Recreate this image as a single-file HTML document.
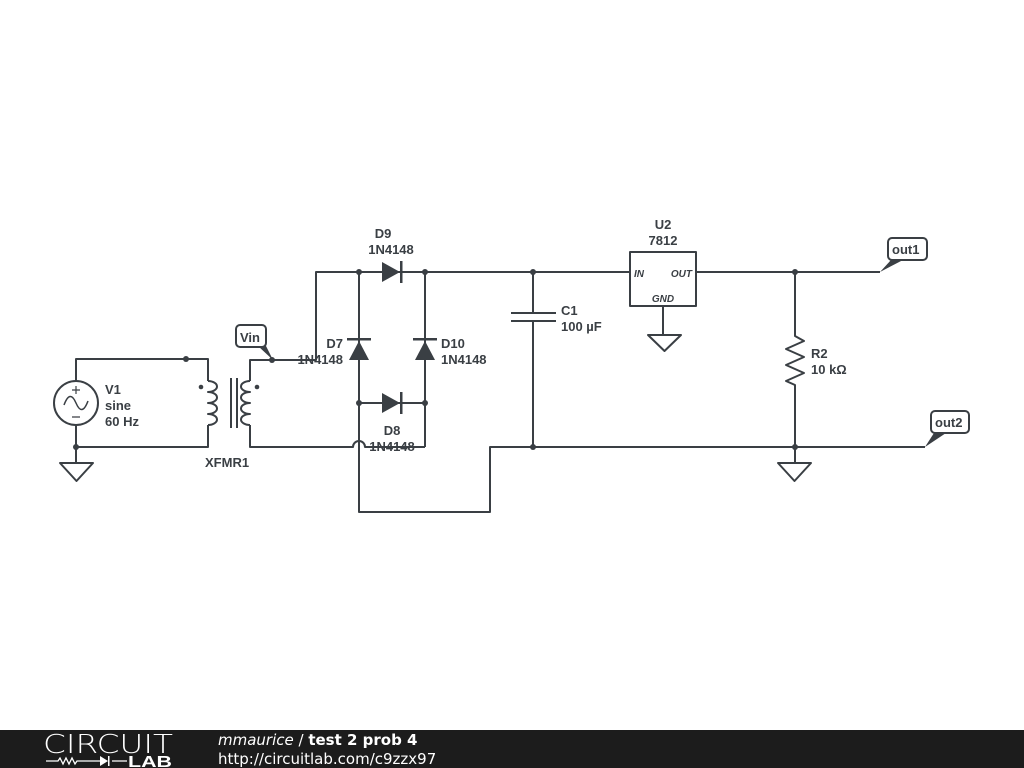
<!DOCTYPE html>
<html><head><meta charset="utf-8"><style>
html,body{margin:0;padding:0;background:#fff;width:1024px;height:768px;overflow:hidden}
svg{display:block}
text{font-family:"Liberation Sans",Arial,sans-serif;fill:#3a3f44}
.b{font-weight:bold;font-size:13px}
</style></head><body>
<svg width="1024" height="768" viewBox="0 0 1024 768" xmlns="http://www.w3.org/2000/svg">
<g stroke="#3a3f44" stroke-width="2" fill="none" stroke-linejoin="round">
<path d="M76 381 V359 H208 V381"/>
<path d="M76 425 V463"/>
<path d="M76 447 H208 V425"/>
<circle cx="76" cy="403" r="22"/>
<path d="M64 405 q6 -16 12 -2 q6 14 12 -2" stroke-width="1.5"/>
<path d="M76 386 v8 M72 390 h8 M72 417 h8" stroke-width="1.2"/>
<path d="M60 463 H93 L76.5 481 Z"/>
<path d="M208 381 a9 5.5 0 0 1 0 11 a9 5.5 0 0 1 0 11 a9 5.5 0 0 1 0 11 a9 5.5 0 0 1 0 11"/>
<path d="M250 381 a9 5.5 0 0 0 0 11 a9 5.5 0 0 0 0 11 a9 5.5 0 0 0 0 11 a9 5.5 0 0 0 0 11"/>
<path d="M231 378 V428 M237 378 V428"/>
<path d="M250 381 V360 H316 V272 H630"/>
<path d="M250 425 V447 H353 a6 6 0 0 1 12 0 H425"/>
<path d="M359 272 V447 M359 447 V512 H490 V447 H925"/>
<path d="M425 272 V447"/>
<path d="M359 403 H425"/>
<path d="M533 272 V313 M533 321 V447 M511 313 H556 M511 321 H556"/>
<rect x="630" y="252" width="66" height="54"/>
<path d="M696 272 H880 M663 306 V335"/>
<path d="M648 335 H681 L664.5 351 Z"/>
<path d="M795 272 V336 l9 5 l-18 8 l18 8 l-18 8 l18 8 l-18 8 l9 4 V463"/>
<path d="M778 463 H811 L794.5 481 Z"/>
<rect x="236" y="325" width="30" height="22" rx="4"/>
<rect x="888" y="238" width="39" height="22" rx="4"/>
<rect x="931" y="411" width="38" height="22" rx="4"/>
</g>
<g fill="#3a3f44">
<path d="M382 262 L400 272 L382 282 Z"/><rect x="400" y="261" width="2.5" height="22"/>
<path d="M382 393 L400 403 L382 413 Z"/><rect x="400" y="392" width="2.5" height="22"/>
<path d="M349 360 L359 341 L369 360 Z"/><rect x="347" y="338" width="24" height="2.5"/>
<path d="M415 360 L425 341 L435 360 Z"/><rect x="413" y="338" width="24" height="2.5"/>
<circle cx="186" cy="359" r="3"/><circle cx="76" cy="447" r="3"/>
<circle cx="272" cy="360" r="3"/>
<circle cx="359" cy="272" r="3"/><circle cx="425" cy="272" r="3"/>
<circle cx="359" cy="403" r="3"/><circle cx="425" cy="403" r="3"/>
<circle cx="533" cy="272" r="3"/><circle cx="533" cy="447" r="3"/>
<circle cx="795" cy="272" r="3"/><circle cx="795" cy="447" r="3"/>
<circle cx="201" cy="387" r="2.3"/><circle cx="257" cy="387" r="2.3"/>
<path d="M258 346 L266 346 L273 360 Z"/>
<path d="M891 260 L903 260 L880 272 Z"/>
<path d="M934 433 L946 433 L925 447 Z"/>
</g>
<text class="b" x="105" y="394">V1</text>
<text class="b" x="105" y="410">sine</text>
<text class="b" x="105" y="426">60 Hz</text>
<text class="b" x="205" y="467">XFMR1</text>
<text class="b" x="240" y="342">Vin</text>
<text class="b" x="383" y="238" text-anchor="middle">D9</text>
<text class="b" x="391" y="254" text-anchor="middle">1N4148</text>
<text class="b" x="343" y="348" text-anchor="end">D7</text>
<text class="b" x="343" y="364" text-anchor="end">1N4148</text>
<text class="b" x="441" y="348">D10</text>
<text class="b" x="441" y="364">1N4148</text>
<text class="b" x="392" y="435" text-anchor="middle">D8</text>
<text class="b" x="392" y="451" text-anchor="middle">1N4148</text>
<text class="b" x="561" y="315">C1</text>
<text class="b" x="561" y="331">100 µF</text>
<text class="b" x="663" y="229" text-anchor="middle">U2</text>
<text class="b" x="663" y="245" text-anchor="middle">7812</text>
<text x="634" y="277" font-size="10" font-style="italic" font-weight="bold">IN</text>
<text x="692" y="277" font-size="10" font-style="italic" font-weight="bold" text-anchor="end">OUT</text>
<text x="663" y="302" font-size="10" font-style="italic" font-weight="bold" text-anchor="middle">GND</text>
<text class="b" x="811" y="358">R2</text>
<text class="b" x="811" y="374">10 kΩ</text>
<text class="b" x="892" y="254">out1</text>
<text class="b" x="935" y="427">out2</text>
<rect x="0" y="730" width="1024" height="38" fill="#1c1c1c"/>
<text x="43" y="753" font-size="26" style="fill:#fff;font-family:'DejaVu Sans',sans-serif;font-weight:200" textLength="130" lengthAdjust="spacingAndGlyphs">CIRCUIT</text>
<text x="128" y="767" font-size="16" font-weight="bold" style="fill:#fff" textLength="44" lengthAdjust="spacingAndGlyphs">LAB</text>
<path d="M46 761 H58 l2 -3 l3 6 l3 -6 l3 6 l3 -6 l3 6 l2 -3 H100 M112 761 H127" stroke="#fff" stroke-width="1.3" fill="none"/>
<path d="M100 756 L108 761 L100 766 Z M108 756 h1.5 v10 h-1.5 Z" fill="#fff"/>
<text x="218" y="745" font-size="15" style="fill:#fff;font-family:'DejaVu Sans',sans-serif"><tspan font-style="italic">mmaurice</tspan> / <tspan font-weight="bold">test 2 prob 4</tspan></text>
<text x="218" y="764" font-size="15" style="fill:#fff;font-family:'DejaVu Sans',sans-serif">http://circuitlab.com/c9zzx97</text>
</svg>
</body></html>
